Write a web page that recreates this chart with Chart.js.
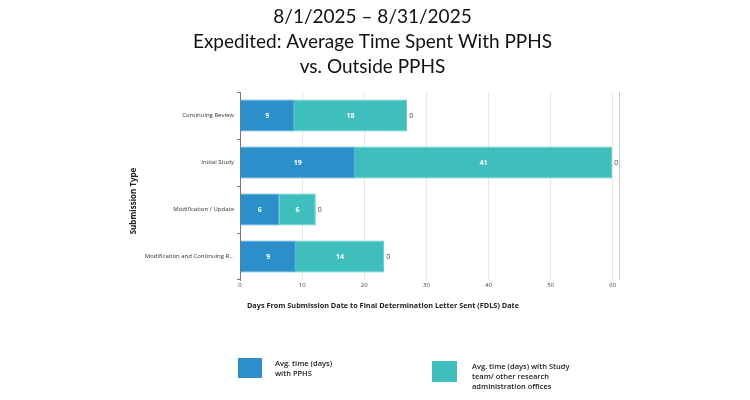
<!DOCTYPE html>
<html lang="en">
  <head>
    <meta charset="UTF-8" />
    <title>Expedited: Average Time Spent With PPHS vs. Outside PPHS</title>
    <script src="https://cdn.jsdelivr.net/npm/chart.js"></script>
    <style>
      html, body {
        margin: 0;
        padding: 0;
        background: #fff;
      }
      #wrap {
        position: relative;
        width: 750px;
        height: 400px;
      }
      .leg {
        position: absolute;
        font-family: "Open Sans", sans-serif;
        font-size: 7.5px;
        font-weight: 600;
        line-height: 10px;
        color: #222;
      }
      .box {
        position: absolute;
        box-sizing: border-box;
      }
    </style>
  </head>
  <body>
    <div id="wrap">
      <canvas id="myChart"></canvas>
      <div class="box" id="box1" style="left: 238px; top: 358px; width: 24px; height: 20px"></div>
      <div class="leg" id="leg1" style="left: 275px; top: 358px"></div>
      <div class="box" id="box2" style="left: 432px; top: 361px; width: 25px; height: 21px"></div>
      <div class="leg" id="leg2" style="left: 472px; top: 361px"></div>
    </div>

    <script>
      const categories = [
        "Continuing Review",
        "Initial Study",
        "Modification / Update",
        "Modification and Continuing Review",
      ];
      const withPPHS = [8.7, 18.5, 6.3, 9.0];
      const withOthers = [18.2, 41.4, 5.9, 14.2];
      const totalMarker = [0, 0, 0, 0];
      const xTicks = [0, 10, 20, 30, 40, 50, 60];
      const seriesNames = [
        ["Avg. time (days)", "with PPHS"],
        ["Avg. time (days) with Study", "team/ other research", "administration offices"],
      ];
      const xTitle = "Days From Submission Date to Final Determination Letter Sent (FDLS) Date";
      const yTitle = "Submission Type";
      const blue = "rgb(43, 144, 202)";
      const teal = "rgb(62, 190, 188)";

      document.getElementById("box1").style.background = blue;
      document.getElementById("box2").style.background = teal;
      document.getElementById("leg1").innerHTML = seriesNames[0].join("<br>");
      document.getElementById("leg2").innerHTML = seriesNames[1].join("<br>");

      // numbers on the bars, the "0" after each bar, and the axis titles
      const barLabels = {
        id: "barLabels",
        afterDatasetsDraw(chart) {
          const c = chart.ctx;
          c.save();
          c.textBaseline = "middle";
          chart.data.datasets.forEach((ds, i) => {
            const meta = chart.getDatasetMeta(i);
            meta.data.forEach((bar, j) => {
              const v = ds.data[j];
              if (i < 2) {
                c.fillStyle = "#fff";
                c.font = "bold 7px 'Open Sans'";
                c.textAlign = "center";
                c.fillText(Math.round(v), (bar.x + bar.base) / 2, bar.y);
              } else {
                c.fillStyle = "#444";
                c.font = "7px 'Open Sans'";
                c.textAlign = "left";
                c.fillText(v, bar.x + 2, bar.y);
              }
            });
          });

          // axis titles sit a little off the plot centre, as in the original
          c.fillStyle = "#222";
          c.textAlign = "center";
          c.font = "bold 7.3px 'Open Sans'";
          c.fillText(xTitle, 383, 306);
          c.translate(134, 201);
          c.rotate(-Math.PI / 2);
          c.font = "bold 8px 'Open Sans'";
          c.fillText(yTitle, 0, 0);
          c.restore();
        },
      };

      const ctx = document.getElementById("myChart");
      const myChart = new Chart(ctx, {
        type: "bar",
        data: {
          labels: categories,
          datasets: [
            {
              label: seriesNames[0].join(" "),
              data: withPPHS,
              backgroundColor: blue,
              borderColor: "rgb(70, 165, 215)",
              borderWidth: 1,
              barPercentage: 0.68,
              categoryPercentage: 1,
            },
            {
              label: seriesNames[1].join(" "),
              data: withOthers,
              backgroundColor: teal,
              borderColor: "rgb(90, 205, 200)",
              borderWidth: 1,
              barPercentage: 0.68,
              categoryPercentage: 1,
            },
            {
              label: "Total",
              data: totalMarker,
              backgroundColor: "rgba(0,0,0,0)",
              barPercentage: 0.68,
              categoryPercentage: 1,
            },
          ],
        },
        plugins: [barLabels],
        options: {
          indexAxis: "y",
          responsive: true,
          maintainAspectRatio: false,
          animation: false,
          layout: {
            padding: { top: 4, left: 126, right: 131, bottom: 88 },
          },
          plugins: {
            legend: { display: false },
            tooltip: { enabled: false },
            title: {
              display: true,
              text: [
                "8/1/2025 \u2013 8/31/2025",
                "Expedited: Average Time Spent With PPHS",
                "vs. Outside PPHS",
              ],
              color: "#111",
              font: { family: "Lato", size: 19, weight: "normal", lineHeight: 1.316 },
              padding: { top: 0, bottom: 13 },
            },
          },
          scales: {
            x: {
              stacked: true,
              min: 0,
              max: 61,
              afterBuildTicks(scale) {
                scale.ticks = xTicks.concat([61]).map((v) => ({ value: v }));
              },
              afterFit(scale) {
                scale.height = 32;
              },
              ticks: {
                callback: (v) => (xTicks.includes(v) ? v : ""),
                color: "#444",
                font: { family: "Open Sans", size: 6 },
                padding: 2,
                maxRotation: 0,
              },
              grid: {
                color: (c) => (c.tick && c.tick.value === 61 ? "#c8c8c8" : "#e8e8e8"),
                tickLength: 0,
              },
              border: { display: false },
            },
            y: {
              stacked: true,
              afterFit(scale) {
                scale.width = 114;
              },
              ticks: {
                callback: function (v) {
                  const s = this.getLabelForValue(v);
                  return s.length > 30 ? s.slice(0, 29) + "..." : s;
                },
                color: "#333",
                font: { family: "Open Sans", size: 6 },
                padding: 3,
              },
              grid: {
                offset: true,
                drawOnChartArea: false,
                tickLength: 3,
                color: "#777",
              },
              border: { display: true, color: "#777", width: 1 },
            },
          },
        },
      });
    </script>
  </body>
</html>
